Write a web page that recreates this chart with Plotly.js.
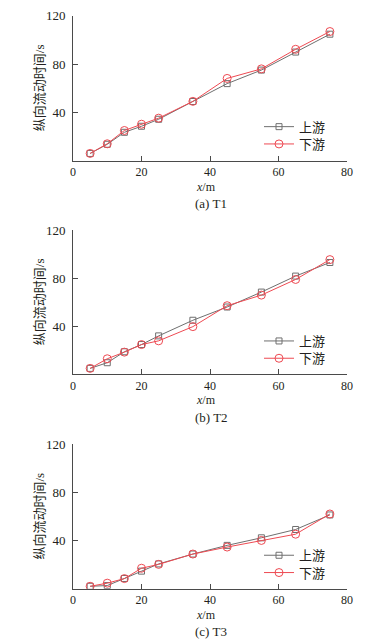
<!DOCTYPE html>
<html>
<head>
<meta charset="utf-8">
<script src="https://cdn.plot.ly/plotly-3.0.1.min.js"></script>
<style>
  html, body { margin: 0; padding: 0; background: #fff; }
  #chart { width: 388px; height: 644px; }
</style>
</head>
<body>
<div id="chart"></div>
<script>
// ---- data ----
const xPos = [5, 10, 15, 20, 25, 35, 45, 55, 65, 75];

const t1Up   = [6.0, 13.6, 23.5, 28.5, 34.3, 49.0, 63.8, 75.0, 89.9, 104.7];
const t1Down = [6.0, 14.0, 25.0, 30.2, 35.2, 49.1, 68.1, 76.0, 92.2, 106.9];

const t2Up   = [5.0, 9.7, 18.8, 24.8, 32.0, 45.0, 56.0, 68.4, 81.7, 93.0];
const t2Down = [5.0, 13.0, 18.5, 24.8, 27.9, 39.7, 57.1, 65.9, 78.9, 95.4];

const t3Up   = [2.0, 2.6, 8.5, 14.6, 20.6, 28.8, 36.0, 42.3, 49.2, 61.3];
const t3Down = [2.0, 4.6, 8.4, 17.0, 20.2, 28.8, 34.6, 40.1, 45.3, 62.1];

const seriesNames = ['上游', '下游'];
const captions = ['(a) T1', '(b) T2', '(c) T3'];
const yTitle = '纵向流动时间/s';
const xTitle = '<i>x</i>/m';
const xTicks = [0, 20, 40, 60, 80];
const yTicks = [40, 80, 120];

// ---- layout geometry ----
const W = 388, H = 644;
const mT = 15, mB = 55, mL = 73, mR = 41;
const PH = H - mT - mB, PW = W - mL - mR;
const panelTop = [15.7, 230.0, 444.3];
const panelBot = [160.7, 374.4, 588.7];
const py = p => 1 - (p - mT) / PH;
const px = p => (p - mL) / PW;

const serif = '"Liberation Serif", "Times New Roman", "Noto Sans CJK SC", serif';
const txt = '#231f20';
const axisCol = '#4a4a4a';
const grey = '#6f6f6f';
const red = '#ee4a52';

const panels = [[t1Up, t1Down], [t2Up, t2Down], [t3Up, t3Down]];
const traces = [];
const layout = {
  width: W, height: H,
  margin: {l: mL, r: mR, t: mT, b: mB, pad: 0},
  paper_bgcolor: '#fff', plot_bgcolor: '#fff',
  font: {family: serif, color: txt, size: 12},
  annotations: [],
  showlegend: true
};

const legendOffsets = [111, 128.3];
const styles = [
  {line: {color: grey, width: 1},
   marker: {symbol: 'square-open', size: 6, color: grey, line: {width: 1, color: grey}}},
  {line: {color: red, width: 1},
   marker: {symbol: 'circle-open', size: 8, color: red, line: {width: 1, color: red}}}
];

panels.forEach((pair, i) => {
  const n = i === 0 ? '' : String(i + 1);
  const xa = 'x' + n, ya = 'y' + n;
  const top = panelTop[i], bot = panelBot[i];

  pair.forEach((vals, k) => {
    const li = 2 * i + k + 1;
    const legendId = li === 1 ? 'legend' : 'legend' + li;
    traces.push(Object.assign({
      x: xPos, y: vals, xaxis: xa, yaxis: ya, name: seriesNames[k],
      type: 'scatter', mode: 'lines+markers', legend: legendId
    }, styles[k]));
    layout[legendId] = {
      x: px(259), y: py(top + legendOffsets[k]), xanchor: 'left', yanchor: 'middle',
      bgcolor: 'rgba(0,0,0,0)', borderwidth: 0,
      font: {family: serif, size: 13, color: txt},
      itemwidth: 30
    };
  });

  layout['xaxis' + n] = {
    domain: [0, 1], anchor: ya, range: [0, 80],
    tickvals: xTicks, ticktext: xTicks.map(String),
    ticks: 'inside', ticklen: 5, tickwidth: 1, tickcolor: axisCol,
    showline: true, linecolor: axisCol, linewidth: 1,
    showgrid: false, zeroline: false, mirror: false,
    tickfont: {family: serif, size: 12, color: txt}
  };
  layout['yaxis' + n] = {
    domain: [py(bot), py(top)], anchor: xa, range: [0, 120],
    tickvals: yTicks, ticktext: yTicks.map(String),
    ticks: 'inside', ticklen: 5, tickwidth: 1, tickcolor: axisCol,
    showline: true, linecolor: axisCol, linewidth: 1,
    showgrid: false, zeroline: false, mirror: false,
    ticklabelstandoff: 4,
    tickfont: {family: serif, size: 13, color: txt}
  };
  layout.annotations.push({
    xref: 'paper', yref: 'paper', x: px(39), y: py((top + bot) / 2),
    text: yTitle, textangle: -90, showarrow: false,
    xanchor: 'center', yanchor: 'middle',
    font: {family: serif, size: 13, color: txt}
  });
  layout.annotations.push({
    xref: 'paper', yref: 'paper', x: px(206), y: py(bot + 26),
    text: xTitle, showarrow: false, xanchor: 'center', yanchor: 'middle',
    font: {family: serif, size: 12, color: txt}
  });
  layout.annotations.push({
    xref: 'paper', yref: 'paper', x: px(211), y: py(bot + 43),
    text: captions[i], showarrow: false, xanchor: 'center', yanchor: 'middle',
    font: {family: serif, size: 13, color: txt}
  });
});

Plotly.newPlot('chart', traces, layout, {staticPlot: true, displayModeBar: false});
</script>
</body>
</html>
